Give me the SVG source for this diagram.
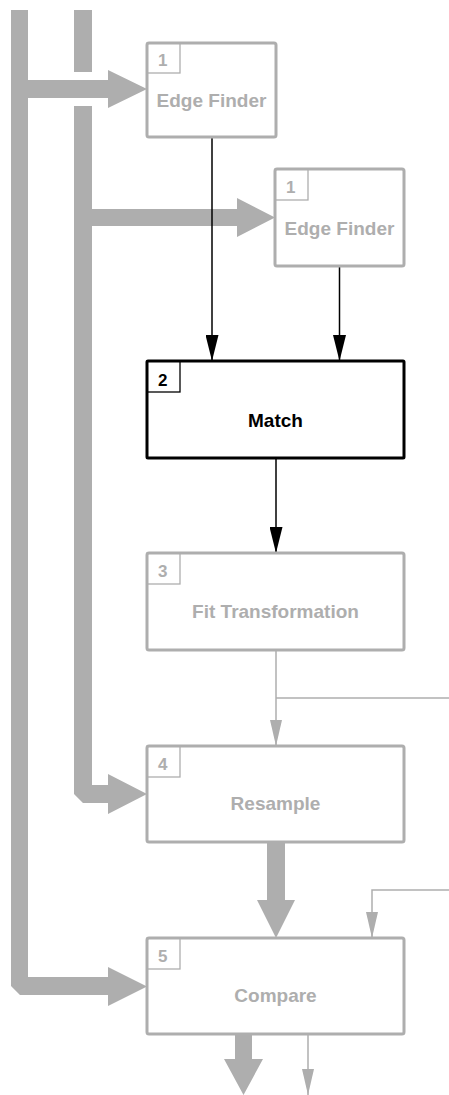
<svg xmlns="http://www.w3.org/2000/svg" width="449" height="1095" viewBox="0 0 449 1095">
  <style>
    .flow { fill: #aeaeae; stroke: none; }
    .thin { fill: none; stroke: #aeaeae; stroke-width: 1.5; }
    .blk { fill: none; stroke: #000; stroke-width: 1.5; }
    .box { fill: #fff; stroke: #aeaeae; stroke-width: 3; }
    .box.on { stroke: #000; }
    .tag { fill: none; stroke: #aeaeae; stroke-width: 1.3; }
    .tag.on { stroke: #000; }
    .num { font-family: "Liberation Sans", Arial, sans-serif; font-weight: bold; font-size: 17px; fill: #aeaeae; }
    .lbl { font-family: "Liberation Sans", Arial, sans-serif; font-weight: bold; font-size: 19px; fill: #aeaeae; text-anchor: middle; }
    .on-t { fill: #000; }
  </style>
  <defs>
    <marker id="headBlack" markerUnits="userSpaceOnUse" markerWidth="26" markerHeight="13" refX="26" refY="6.5" orient="auto">
      <path d="M0,0 L26,6.5 L0,13 z" fill="#000"/>
    </marker>
    <marker id="headGray" markerUnits="userSpaceOnUse" markerWidth="26" markerHeight="12" refX="26" refY="6" orient="auto">
      <path d="M0,0 L26,6 L0,12 z" fill="#aeaeae"/>
    </marker>
  </defs>

  <g id="connectors">
    <!-- wide data flows -->
    <polygon class="flow" points="11,10 28,10 28,977 108,977 108,967 147,986.5 108,1006 108,995 20,995 11,986"/>
    <polygon class="flow" points="27,80 108,80 108,70 147,89 108,108 108,98 27,98"/>
    <rect class="flow" x="74" y="10" width="18" height="62"/>
    <polygon class="flow" points="74,106 92,106 92,785 108,785 108,774 147,794 108,814 108,803 83,803 74,794"/>
    <polygon class="flow" points="91,209 237,209 237,198 275,217.5 237,237 237,226 91,226"/>
    <polygon class="flow" points="267,842 285,842 285,900 295,900 276,938 257,900 267,900"/>
    <polygon class="flow" points="235,1034 252,1034 252,1059 263,1059 243.5,1095 224,1059 235,1059"/>

    <!-- control lines -->
    <line class="blk" x1="212" y1="137" x2="212" y2="361" marker-end="url(#headBlack)"/>
    <line class="blk" x1="339.5" y1="266" x2="339.5" y2="361" marker-end="url(#headBlack)"/>
    <line class="blk" x1="276" y1="458" x2="276" y2="553" marker-end="url(#headBlack)"/>

    <line class="thin" x1="276" y1="650" x2="276" y2="746" marker-end="url(#headGray)"/>
    <line class="thin" x1="276" y1="698" x2="449" y2="698"/>
    <polyline class="thin" points="449,890 372,890 372,938" marker-end="url(#headGray)"/>
    <line class="thin" x1="308" y1="1034" x2="308" y2="1095" marker-end="url(#headGray)"/>
  </g>

  <g id="node-edge-finder-a">
    <rect class="box" x="147" y="43" width="129" height="94" rx="2"/>
    <rect class="tag" x="147" y="43" width="33" height="30"/>
    <text class="num" x="158" y="66">1</text>
    <text class="lbl" x="211.5" y="107">Edge Finder</text>
  </g>

  <g id="node-edge-finder-b">
    <rect class="box" x="275" y="169" width="129" height="97" rx="2"/>
    <rect class="tag" x="275" y="169" width="33" height="31"/>
    <text class="num" x="286" y="193">1</text>
    <text class="lbl" x="339.5" y="235">Edge Finder</text>
  </g>

  <g id="node-match">
    <rect class="box on" x="147" y="361" width="257" height="97" rx="1"/>
    <rect class="tag on" x="147" y="361" width="33" height="31"/>
    <text class="num on-t" x="158" y="386">2</text>
    <text class="lbl on-t" x="275.5" y="427">Match</text>
  </g>

  <g id="node-fit-transformation">
    <rect class="box" x="147" y="553" width="257" height="97" rx="2"/>
    <rect class="tag" x="147" y="553" width="33" height="31"/>
    <text class="num" x="158" y="577">3</text>
    <text class="lbl" x="275.5" y="618">Fit Transformation</text>
  </g>

  <g id="node-resample">
    <rect class="box" x="147" y="746" width="257" height="96" rx="2"/>
    <rect class="tag" x="147" y="746" width="33" height="31"/>
    <text class="num" x="158" y="770">4</text>
    <text class="lbl" x="275.5" y="810">Resample</text>
  </g>

  <g id="node-compare">
    <rect class="box" x="147" y="938" width="257" height="96" rx="2"/>
    <rect class="tag" x="147" y="938" width="33" height="31"/>
    <text class="num" x="158" y="962">5</text>
    <text class="lbl" x="275.5" y="1002">Compare</text>
  </g>
</svg>
